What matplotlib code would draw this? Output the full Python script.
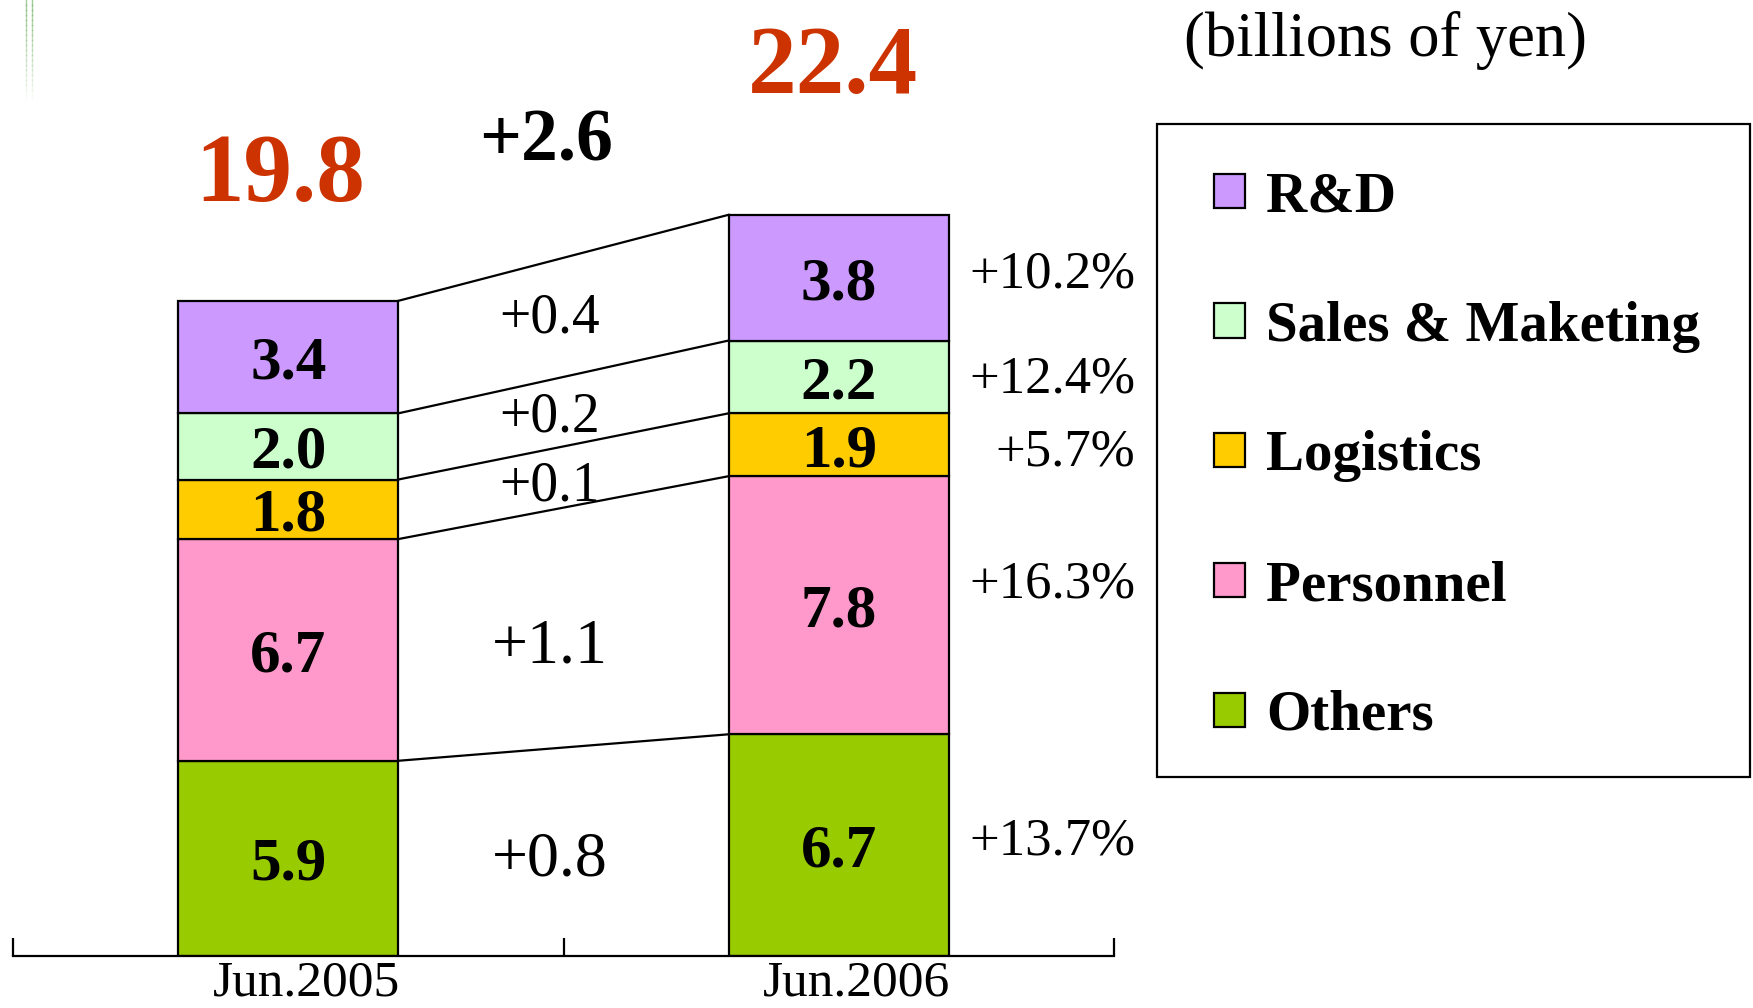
import numpy as np
import matplotlib
matplotlib.use("Agg")
import matplotlib.pyplot as plt
from matplotlib.patches import Patch, Rectangle
from matplotlib.lines import Line2D
from matplotlib.transforms import ScaledTranslation

plt.rcParams['font.family'] = ['Liberation Serif', 'DejaVu Serif']

# data (billions of yen)
periods = ['Jun.2005', 'Jun.2006']
categories = ['Others', 'Personnel', 'Logistics', 'Sales & Maketing', 'R&D']
jun2005 = [5.9, 6.7, 1.8, 2.0, 3.4]
jun2006 = [6.7, 7.8, 1.9, 2.2, 3.8]
totals = [19.8, 22.4]
total_diff = '+2.6'
diff_labels = ['+0.8', '+1.1', '+0.1', '+0.2', '+0.4']
diff_y = [3.11, 9.53, 14.36, 16.46, 19.46]
pct_labels = ['+13.7%', '+16.3%', '+5.7%', '+12.4%', '+10.2%']
pct_y = [3.62, 11.39, 15.37, 17.6, 20.76]
colors = ['#99CC00', '#FF99CC', '#FFCC00', '#CCFFCC', '#CC99FF']

fig = plt.figure(figsize=(17.53, 10.08), dpi=100)
ax = fig.add_axes([13/1753, 52/1008, 1101/1753, 956/1008])

x = np.arange(len(periods))
bw = 0.4
vals = np.array([jun2005, jun2006])
bottoms = np.zeros(2)
for i, cat in enumerate(categories):
    h = vals[:, i]
    ax.bar(x, h, bw, bottom=bottoms, color=colors[i], edgecolor='black', linewidth=1.6, zorder=2)
    for j in range(2):
        ax.text(x[j], bottoms[j] + h[j]/2, f'{h[j]:.1f}', ha='center', va='center_baseline',
                fontsize=44, fontweight='bold', zorder=3)
    bottoms = bottoms + h
    # connector lines between the two bars
    ax.plot([x[0] + bw/2, x[1] - bw/2], [bottoms[0], bottoms[1]], color='black', lw=1.6, zorder=1)

for i in range(len(categories)):
    fs = 46 if i < 2 else 40
    ax.text(0.475, diff_y[i], diff_labels[i], ha='center', va='center_baseline', fontsize=fs)
    ax.text(1.538, pct_y[i], pct_labels[i], ha='right', va='center_baseline', fontsize=38, clip_on=False)

ax.text(x[0] - 0.014, 23.85, f'{totals[0]:.1f}', ha='center', va='center_baseline', fontsize=70,
        fontweight='bold', color='#CC3300')
ax.text(x[1] - 0.01, 27.1, f'{totals[1]:.1f}', ha='center', va='center_baseline', fontsize=70,
        fontweight='bold', color='#CC3300')
ax.text(0.468, 24.83, total_diff, ha='center', va='center_baseline', fontsize=53, fontweight='bold')

ax.set_xlim(-0.5, 1.5)
ax.set_ylim(0, 956/33.09)
for s in ['top', 'left', 'right']:
    ax.spines[s].set_visible(False)
ax.spines['bottom'].set_linewidth(1.6)
ax.set_yticks([])
ax.set_xticks(x)
ax.set_xticklabels(periods, fontsize=37)
ax.tick_params(axis='x', which='major', length=0, pad=3)
ax.set_xticks([-0.5, 0.5, 1.5], minor=True)
ax.tick_params(axis='x', which='minor', direction='in', length=13, width=1.6)
shift = ScaledTranslation(0.18, 0, fig.dpi_scale_trans)
for lab in ax.get_xticklabels():
    lab.set_transform(lab.get_transform() + shift)
ax.patch.set_alpha(0)

# unit label
fig.text(1386/1753, 1 - 40/1008, '(billions of yen)', ha='center', va='center', fontsize=45)

# legend (frame drawn separately)
fig.patches.append(Rectangle((1157/1753, 1 - 777/1008), 593/1753, 653/1008, transform=fig.transFigure,
                             fill=False, edgecolor='black', linewidth=1.6))
handles = [Patch(facecolor=colors[i], edgecolor='black', linewidth=1.6, label=categories[i])
           for i in range(len(categories) - 1, -1, -1)]
fig.legend(handles=handles, loc='upper left', bbox_to_anchor=(1214/1753, 1 - 171/1008),
           frameon=False, borderpad=0, prop={'weight': 'bold', 'size': 41},
           handlelength=0.55, handleheight=0.55, handletextpad=0.36, labelspacing=1.365, borderaxespad=0)

# faded green stripes at top left
for k in range(20):
    a = 0.6 * (1 - k/20)
    y0 = 1 - k*5/1008
    y1 = 1 - (k+1)*5/1008
    fig.add_artist(Line2D([26/1753, 26/1753], [y0, y1], color='#66AA55', alpha=a, lw=1))
    fig.add_artist(Line2D([32/1753, 32/1753], [y0, y1], color='#66AA55', alpha=a, lw=1))

fig.savefig('out.png', dpi=100)
